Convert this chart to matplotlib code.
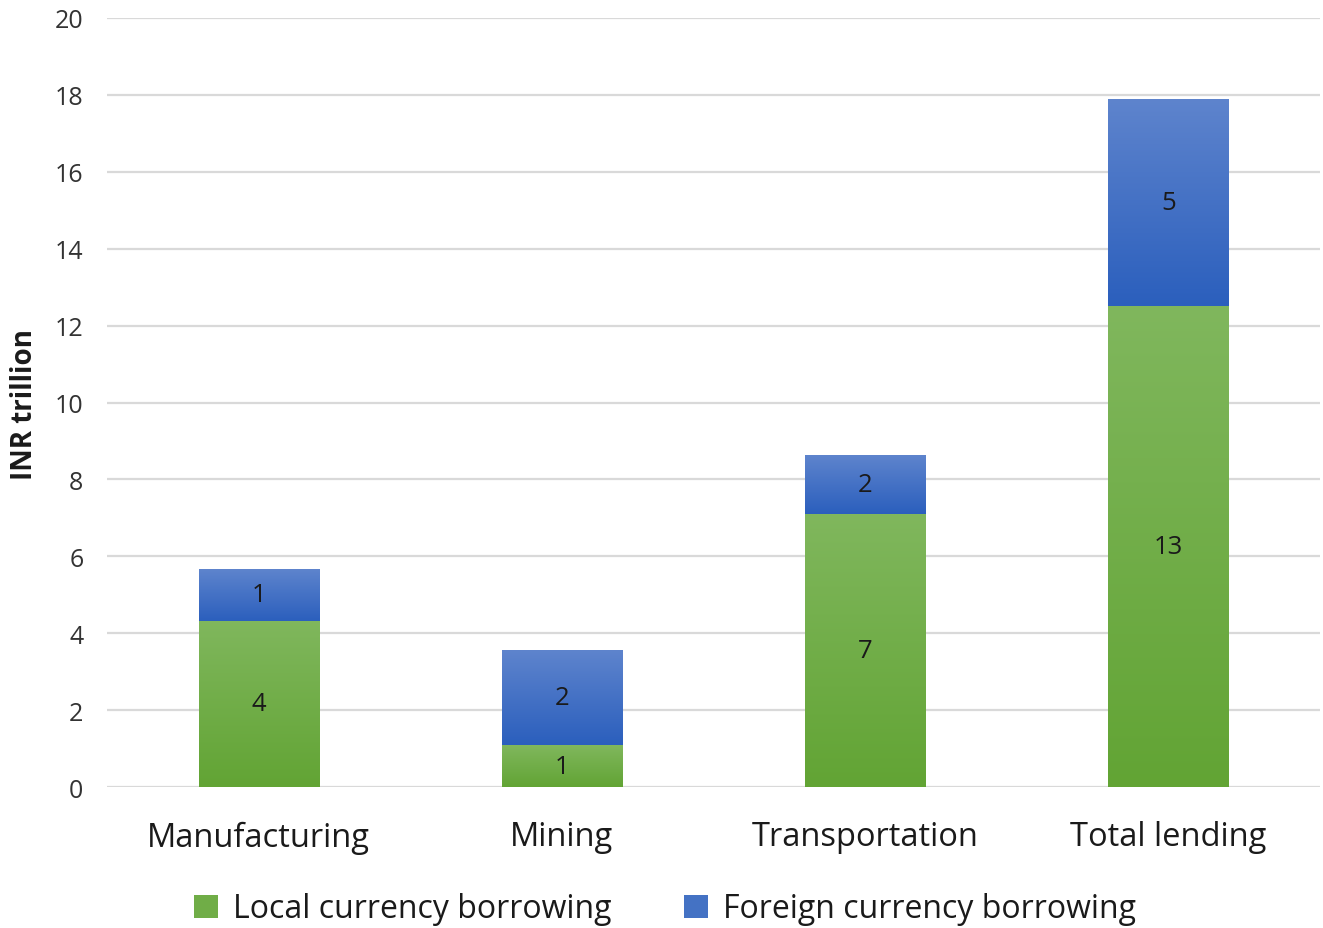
import numpy as np
import matplotlib
matplotlib.use("Agg")
import matplotlib.pyplot as plt
from matplotlib.patches import Patch
from matplotlib.colors import LinearSegmentedColormap

categories = ["Manufacturing", "Mining", "Transportation", "Total lending"]
local_vals = [4.32, 1.09, 7.10, 12.51]
foreign_vals = [1.35, 2.45, 1.51, 5.38]
local_labels = ["4", "1", "7", "13"]
foreign_labels = ["1", "2", "2", "5"]
yticks = [0, 2, 4, 6, 8, 10, 12, 14, 16, 18, 20]

plt.rcParams['font.family'] = ['Open Sans', 'DejaVu Sans']

fig = plt.figure(figsize=(13.23, 9.29), dpi=100)
ax = fig.add_axes([107/1323, 1-788/929, 1213/1323, (788-19)/929])

green_cmap = LinearSegmentedColormap.from_list("g", ["#62a434", "#80b75d"])
blue_cmap = LinearSegmentedColormap.from_list("b", ["#2b5fbd", "#5e84cd"])

width = 0.396
x = np.arange(len(categories))
grad = np.linspace(0, 1, 256).reshape(-1, 1)

for i in range(len(categories)):
    for bottom, h, cmap in [(0, local_vals[i], green_cmap), (local_vals[i], foreign_vals[i], blue_cmap)]:
        ax.imshow(grad, cmap=cmap, origin="lower", aspect="auto",
                  extent=[x[i]-width/2, x[i]+width/2, bottom, bottom+h], zorder=3,
                  interpolation="bilinear")

ax.bar(x, local_vals, width, color="none", zorder=2)
ax.bar(x, foreign_vals, width, bottom=local_vals, color="none", zorder=2)

for i in range(len(categories)):
    ax.text(x[i], local_vals[i]/2, local_labels[i], ha="center", va="center",
            fontsize=18.5, color="#1a1a1a", zorder=4)
    ax.text(x[i], local_vals[i] + foreign_vals[i]/2, foreign_labels[i], ha="center", va="center",
            fontsize=18.5, color="#1a1a1a", zorder=4)

ax.set_xlim(-0.5, 3.5)
ax.set_ylim(0, 20)
ax.set_yticks(yticks)
ax.yaxis.grid(True, color="#d9d9d9", linewidth=1.6, zorder=0)
ax.set_axisbelow(True)
for s in ax.spines.values():
    s.set_visible(False)
ax.tick_params(axis="y", length=0, pad=17, labelsize=18, labelcolor="#333333")
ax.tick_params(axis="x", length=0, pad=24, labelsize=23.5, labelcolor="#1a1a1a")
ax.set_xticks(x)
ax.set_xticklabels(categories)
ax.set_ylabel("INR trillion", fontsize=20, fontweight="bold", color="#1a1a1a")
ax.yaxis.set_label_coords(-68/1213, (788-405)/769)

handles = [Patch(facecolor="#70ad47", label="Local currency borrowing"),
           Patch(facecolor="#4472c4", label="Foreign currency borrowing")]
fig.legend(handles=handles, loc="center", bbox_to_anchor=(665/1323, 1-910/929), ncol=2,
           frameon=False, fontsize=23, handlelength=0.75, handleheight=0.75,
           handletextpad=0.45, columnspacing=2.3, labelcolor="#1a1a1a")

fig.savefig("out.png", dpi=100)
